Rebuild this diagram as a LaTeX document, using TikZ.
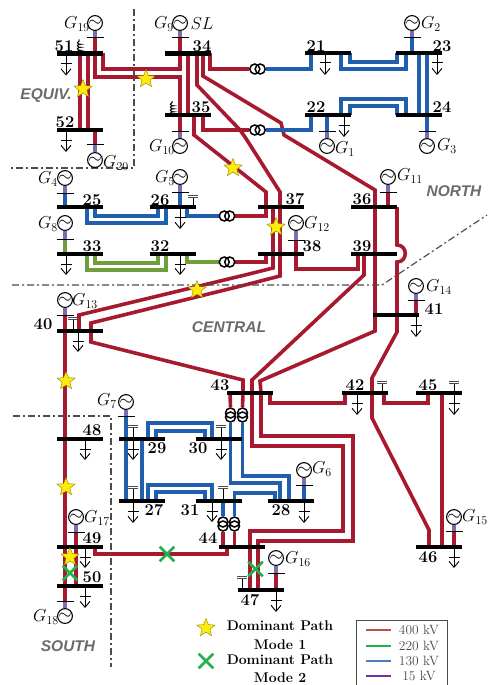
\documentclass[tikz,border=0pt]{standalone}
\usepackage{fontspec}
\setsansfont{Liberation Sans}
\usepackage{xcolor}
\usetikzlibrary{shapes.geometric, shapes.misc, arrows.meta, backgrounds, decorations.pathmorphing}
\definecolor{line400}{HTML}{A6192E}
\definecolor{line220}{HTML}{6F9F3A}
\definecolor{line130}{HTML}{1F5FAE}
\definecolor{stub15}{HTML}{7F6CB0}
\definecolor{zonegray}{HTML}{6B6B6B}
\definecolor{starfill}{HTML}{FFEB0A}
\definecolor{crossgreen}{HTML}{22B14C}
\definecolor{key400}{HTML}{C0504D}
\definecolor{key130}{HTML}{4A7EBB}
\definecolor{key15}{HTML}{7030A0}
\begin{document}
\begin{tikzpicture}[x=1pt, y=-1pt,
  bus/.style={rectangle, fill=black, inner sep=0pt, minimum width=46pt, minimum height=4.6pt},
  thinbus/.style={bus, minimum height=3.4pt},
  num/.style={inner sep=0pt, font=\fontsize{16.5}{17}\selectfont\bfseries},
  gen/.style={circle, draw, line width=1.1pt, inner sep=0pt, minimum size=14.5pt, font=\fontsize{17}{17}\selectfont},
  glab/.style={inner sep=0pt, font=\fontsize{17.3}{17.3}\selectfont},
  xfmr/.style={circle, draw, line width=1.5pt, inner sep=0pt, minimum size=10pt},
  ln400/.style={draw=line400, line width=3.6pt},
  ln220/.style={draw=line220, line width=3.6pt},
  ln130/.style={draw=line130, line width=3.6pt},
  stub/.style={draw=stub15, line width=3.6pt},
  loadln/.style={line width=0.9pt, -{Straight Barb[length=6pt, width=10pt]}},
  grid/.style={line width=1pt},
  border/.style={draw=black!70, line width=1.2pt, dash pattern=on 7pt off 3pt on 2pt off 3pt},
  zone/.style={inner sep=0pt, text=zonegray, font=\fontsize{15.5}{15.5}\selectfont\sffamily\bfseries\itshape},
  goldstar/.style={star, star points=5, star point ratio=2.3, fill=starfill, draw=black!45!starfill, line width=0.4pt, inner sep=0pt, minimum size=19pt},
  crossmark/.style={cross out, draw=crossgreen, line width=2.6pt, inner sep=0pt, minimum width=12pt, minimum height=12pt},
  keytext/.style={inner sep=0pt, text=black!70, font=\fontsize{13.5}{14}\selectfont},
  pathtext/.style={inner sep=0pt, font=\fontsize{14}{14}\selectfont\bfseries},
]
  \useasboundingbox (0,0) rectangle (487,685);

  % buses
  \foreach \id/\x/\y/\lx/\ly in {51/80/53.5/64/46, 52/80/130/65/122, 34/188/53.5/202/46, 35/188/115/201/107,
    33/80/254/92/246, 32/172.5/254/160/246, 37/281/207/295/199, 36/373.5/207/362/199,
    38/281/254/312/246, 39/373.5/254/362/246, 41/396/315/434/309, 42/365/393/355/385,
    45/439/393/428/385, 43/250/393/220/385, 40/80/331/43/324, 48/80/439/92/430,
    49/80/547/92/538, 50/80/586/92/577, 44/242/547/208/538, 47/261/590/250/600, 46/439/547/428/557}
    {\node[bus] (b\id) at (\x,\y) {};
     \node[num] (n\id) at (\lx,\ly) {\id};}
  \foreach \id/\x/\y/\lx/\ly in {25/80/207/92/200, 26/172.5/207/160/200, 21/327.5/53/316/46, 23/419/53/442/46,
    22/327.5/115/316/107, 24/419/115/442/107, 29/142/439/157/448, 30/219/439/198/448,
    27/142/501/154/510, 31/219/501/190/510, 28/290.5/501/281/510}
    {\node[thinbus] (b\id) at (\x,\y) {};
     \node[num] (n\id) at (\lx,\ly) {\id};}

  % transformers
  \foreach \id/\x/\y in {0/257.5/69, 1/257.5/130, 2/227/216, 3/227/262}
    {\node[xfmr] (tr\id a) at (\x-2.7,\y) {};
     \node[xfmr] (tr\id b) at (\x+2.7,\y) {};}
  \foreach \id/\x/\y in {4/230.5/415, 5/242.5/415, 6/223/524, 7/234.5/524}
    {\node[xfmr] (tr\id a) at (\x,\y-2) {};
     \node[xfmr] (tr\id b) at (\x,\y+2) {};}

  % generators
  \foreach \id/\bid/\x/\cy/\ty/\sty/\lx/\ly in {19/51/95/23/38/ln400/77/24, 9/34/180/23/38/ln400/164/24,
    10/35/180/146/131/ln400/162/147, 20/52/95/160/144/ln400/116/163, 4/25/65/178/193/ln130/48/179,
    5/26/180/177/192/ln130/165/178, 8/33/65/223/239/ln220/48/224, 13/40/65/300/315/ln400/85/301,
    2/23/412/23/38/ln130/431/24, 1/22/327/146/131/ln130/345/149, 3/24/427/146/131/ln130/447/146,
    11/36/388/177/192/ln400/410/176, 12/38/296/223/240/ln400/317/224, 14/41/416/286/300/ln400/439/287,
    7/27/126/402/416/ln130/107/401, 6/28/304/470/485/ln130/322/469, 17/49/76/517/532/ln400/97/518,
    18/50/65/616/601/ln400/46/617, 16/47/276/558/573/ln400/298/559, 15/46/454/517/531/ln400/475/517}
    {\node[gen] (g\id) at (\x,\cy) {$\sim$};
     \node[glab] (lg\id) at (\lx,\ly) {$G_{\id}$};
     \coordinate (t\id) at (\x,\ty);
     \begin{scope}[on background layer]
       \path[\sty] (t\id) -- (t\id |- b\bid);
       \path[stub] (g\id) -- (t\id);
     \end{scope}
     \draw[grid] ([xshift=-8.5pt]t\id) -- ([xshift=8.5pt]t\id);}
  \node[glab] (slack) at (202,24) {$SL$};

  % loads
  \foreach \id/\dx/\len in {51/-14/22, 52/-14/22, 33/-14/21, 26/7.5/22, 32/7.5/21, 21/-2.5/22, 23/18/22,
    22/16.5/22, 41/20/22, 40/-2/21, 48/5/21, 49/5/21, 50/5/22, 29/-9/21, 27/-9/22, 30/2/21, 31/-7/21,
    28/13.5/22, 47/15/22, 42/-8/22, 45/15/22, 46/15/21}
    {\draw[loadln] ([xshift=\dx pt]b\id.center) -- ++(0,\len);
     \draw[grid] ([xshift=\dx pt-5.5pt, yshift=-10pt]b\id.center) -- ([xshift=\dx pt+5.5pt, yshift=-10pt]b\id.center);}

  % shunt capacitors
  \foreach \id/\dx/\h in {26/20.5/10, 40/-7/12, 42/17/10, 45/15/10, 29/-9/12, 27/-9/13, 30/2/12, 31/4/13, 47/-19/12}
    {\draw[grid] ([xshift=\dx pt]b\id.center) -- ++(0,-\h);
     \draw[grid, black!70] ([xshift=\dx pt-5pt, yshift=\h pt]b\id.center) -- ++(10,0);
     \draw[grid, black!70] ([xshift=\dx pt-5pt, yshift=\h pt+2pt]b\id.center) -- ++(10,0);}

  % shunt reactors
  \foreach \id/\dx in {51/-1, 35/-16}
    \draw[grid, decorate, decoration={coil, aspect=0.6, segment length=3pt, amplitude=1.6pt}]
      ([xshift=\dx pt]b\id.center) -- ++(0,-14);

  \begin{scope}[on background layer]
    % 400 kV
    \path[ln400] (b51) -- (b52);
    \path[ln400] ([xshift=8pt]b51.center) -- ([xshift=8pt]b52.center);
    \path[ln400] ([xshift=15pt]b51.center) -- (95,77) -- (180,77) -- ([xshift=-8pt]b35.center);
    \path[ln400] ([xshift=23pt]b51.center) -- (103,69) -- (180,69) -- ([xshift=-8pt]b34.center);
    \path[ln400] (b34) -- (b35);
    \path[ln400] ([xshift=9pt]b34.center) -- (197,85) -- (240,130) -- (245,137) -- (280,192) -- ([xshift=-1pt]b37.center);
    \path[ln400] ([xshift=15pt]b34.center) -- (203,76) -- (281,123) -- (284,135) -- (375,190) -- ([xshift=1.5pt]b36.center);
    \path[ln400] ([xshift=1.5pt]b36.center) -- (375,331) -- (260,381) -- ([xshift=11pt]b43.center);
    \path[ln400] ([xshift=-9.5pt]b39.center) -- (364,275) -- (252,380) -- ([xshift=2pt]b43.center);
    \path[ln400] ([xshift=-15.5pt]b39.center) -- (358,269) -- (296,269) -- ([xshift=15pt]b38.center);
    \path[ln400] ([xshift=23.5pt]b36.center) -- (397,245) .. controls (408,245) and (408,262) .. (397,262)
      -- (397,332) -- (372,378) -- ([xshift=7pt]b42.center);
    \path[ln400] ([xshift=7pt]b42.center) -- (372,418) -- (429,530) -- ([xshift=-10pt]b46.center);
    \path[ln400] ([xshift=-8pt]b37.center) -- (273,268) -- (245,275) -- (79,315) -- ([xshift=-1pt]b40.center);
    \path[ln400] ([xshift=-1pt]b37.center) -- (280,276) -- (245,285) -- (91,323) -- ([xshift=11pt]b40.center);
    \path[ln400] ([xshift=11pt]b40.center) -- (91,342) -- (243,380) -- ([xshift=-7pt]b43.center);
    \path[ln400] ([xshift=6pt]b35.center) -- (194,135) -- (266,192) -- ([xshift=-15pt]b37.center);
    \path[ln400] (tr2b.east) -| ([xshift=-15pt]b37.center);
    \path[ln400] (tr3b.east) -| ([xshift=-15pt]b38.center);
    \path[ln400] ([xshift=22pt]b34.center) |- (tr0a.west);
    \path[ln400] ([xshift=15pt]b35.center) |- (tr1a.west);
    \path[ln400] ([xshift=20pt]b43.center) -- (270,403) -- (345,403) -- ([xshift=-20pt]b42.center);
    \path[ln400] ([xshift=19pt]b42.center) -- (384,403) -- (428,403) -- ([xshift=-11pt]b45.center);
    \path[ln400] ([xshift=3pt]b45.center) -- ([xshift=3pt]b46.center);
    \path[ln400] ([xshift=-15pt]b40.center) -- ([xshift=-15pt]b50.center);
    \path[ln400] ([xshift=-4pt]b49.center) -- ([xshift=-4pt]b50.center);
    \path[ln400] ([xshift=11pt]b43.center) -- (261,436) -- (353,436) -- (353,541) -- (258,541) -- ([xshift=-3pt]b47.center);
    \path[ln400] ([xshift=2pt]b43.center) -- (252,446) -- (343,446) -- (343,531) -- (250,531) -- ([xshift=-11pt]b47.center);
    \path[ln400] ([xshift=15pt]b49.center) -- (95,554) -- (227,554) -- ([xshift=-15pt]b44.center);
    \path[ln400] ([xshift=-20pt]b43.center) -- (tr4a.north);
    \path[ln400] ([xshift=-7pt]b43.center) -- (tr5a.north);
    \path[ln400] (tr6b.south) -- ([xshift=-19pt]b44.center);
    \path[ln400] (tr7b.south) -- ([xshift=-7.5pt]b44.center);
    % 220 kV
    \path[ln220] ([xshift=7pt]b33.center) -- (87,270) -- (166,270) -- ([xshift=-6.5pt]b32.center);
    \path[ln220] ([xshift=15pt]b33.center) -- (95,263) -- (158,263) -- ([xshift=-14.5pt]b32.center);
    \path[ln220] ([xshift=14.5pt]b32.center) |- (tr3a.west);
    % 130 kV
    \path[ln130] ([xshift=7pt]b25.center) -- (87,223) -- (166,223) -- ([xshift=-6.5pt]b26.center);
    \path[ln130] ([xshift=15pt]b25.center) -- (95,216) -- (158,216) -- ([xshift=-14.5pt]b26.center);
    \path[ln130] ([xshift=14.5pt]b26.center) |- (tr2a.west);
    \path[ln130] (tr0b.east) -| ([xshift=-16.5pt]b21.center);
    \path[ln130] (tr1b.east) -| ([xshift=-16.5pt]b22.center);
    \path[ln130] ([xshift=13.5pt]b21.center) -- (341,69) -- (406,69) -- ([xshift=-13pt]b23.center);
    \path[ln130] ([xshift=22.5pt]b21.center) -- (350,62) -- (397,62) -- ([xshift=-22pt]b23.center);
    \path[ln130] ([xshift=13.5pt]b22.center) -- (341,99) -- (406,99) -- ([xshift=-13pt]b24.center);
    \path[ln130] ([xshift=22.5pt]b22.center) -- (350,106) -- (397,106) -- ([xshift=-22pt]b24.center);
    \path[ln130] (b23) -- (b24);
    \path[ln130] ([xshift=8pt]b23.center) -- ([xshift=8pt]b24.center);
    \path[ln130] (b29) -- (b27);
    \path[ln130] ([xshift=6pt]b29.center) -- (148,423) -- (212,423) -- ([xshift=-7pt]b30.center);
    \path[ln130] ([xshift=14pt]b29.center) -- (156,431) -- (205,431) -- ([xshift=-14pt]b30.center);
    \path[ln130] ([xshift=6pt]b27.center) -- (148,485) -- (212,485) -- ([xshift=-7pt]b31.center);
    \path[ln130] ([xshift=14pt]b27.center) -- (156,492) -- (205,492) -- ([xshift=-14pt]b31.center);
    \path[ln130] (tr4b.south) -- (230.5,483) -- (280,483) -- ([xshift=-10.5pt]b28.center);
    \path[ln130] (tr5b.south) -- (242.5,476) -- (289,476) -- ([xshift=-1.5pt]b28.center);
    \path[ln130] (tr6a.north) -- ([xshift=4pt]b31.center);
    \path[ln130] (tr7a.north) -- (234.5,493) -- (275,493) -- ([xshift=-15.5pt]b28.center);
    % area borders
    \coordinate (eq1) at (134,9);
    \coordinate (eq2) at (134,168);
    \coordinate (eq3) at (11,168);
    \coordinate (ce1) at (12,285);
    \coordinate (ce2) at (382,285);
    \coordinate (ce3) at (487,215);
    \coordinate (so1) at (13,416);
    \coordinate (so2) at (111,416);
    \coordinate (so3) at (111,667);
    \path[border] (eq1) -- (eq2) -- (eq3);
    \path[border] (ce1) -- (ce2) -- (ce3);
    \path[border] (so1) -- (so2) -- (so3);
  \end{scope}

  % area names
  \node[zone] (equiv) at (46,96) {EQUIV.};
  \node[zone] (north) at (454,191) {NORTH};
  \node[zone] (central) at (229,327) {CENTRAL};
  \node[zone] (south) at (68,646) {SOUTH};

  % dominant paths
  \foreach \id/\x/\y in {1/83/89, 2/146/79, 3/233/168, 4/276/227, 5/197/290, 6/66/381, 7/66/487, 8/70/557}
    \node[goldstar] (star\id) at (\x,\y) {};
  \foreach \id/\x/\y in {1/70/573, 2/167/554, 3/255.5/569}
    \node[crossmark] (cross\id) at (\x,\y) {};

  % key
  \node[goldstar] (keystar) at (206,628) {};
  \node[crossmark] (keycross) at (206,661) {};
  \node[pathtext] (mode1a) at (280,626) {Dominant Path};
  \node[pathtext] (mode1b) at (280,645) {Mode 1};
  \node[pathtext] (mode2a) at (280,660) {Dominant Path};
  \node[pathtext] (mode2b) at (280,677.5) {Mode 2};
  \draw[black!70, line width=1pt] (356,690) -- (356,620.5) -- (447,620.5) -- (447,690);
  \foreach \name/\colr/\y/\txt in {a/key400/630/400 kV, b/crossgreen/646/220 kV, c/key130/661/130 kV, d/key15/676/15 kV}
    {\draw[\colr, line width=2.8pt] (366,\y) -- (391,\y);
     \node[keytext] (key\name) at (419,\y) {\txt};}
\end{tikzpicture}
\end{document}
